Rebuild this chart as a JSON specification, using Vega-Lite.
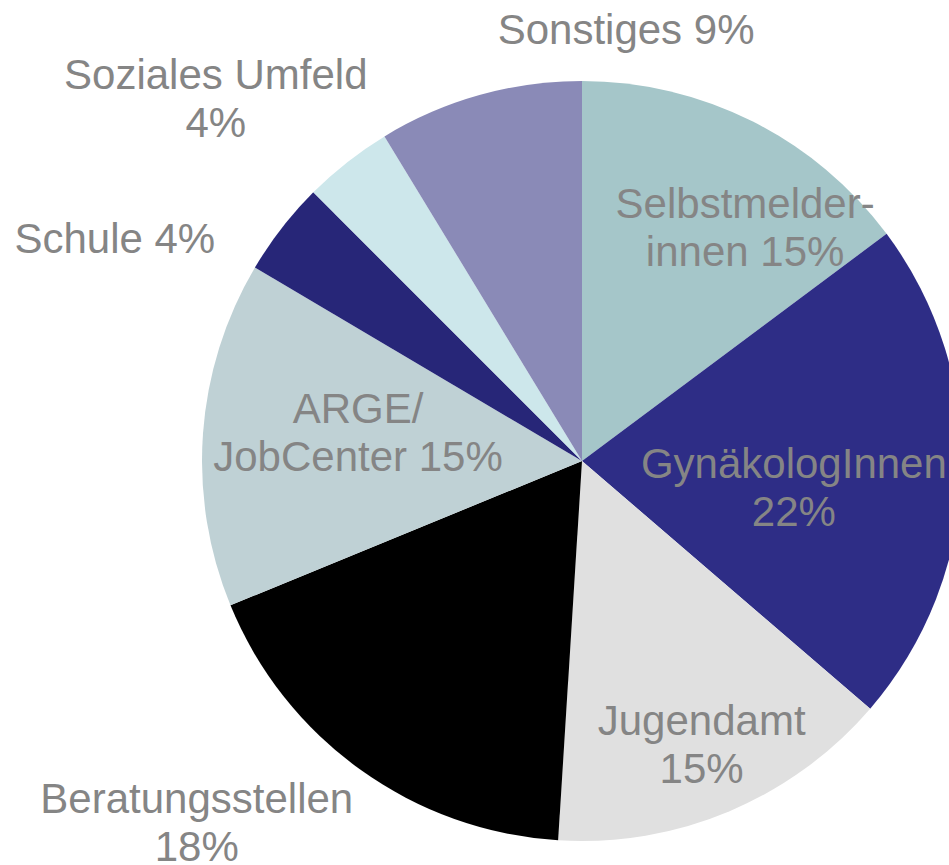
{
  "$schema": "https://vega.github.io/schema/vega-lite/v6.json",
  "autosize": "none",
  "width": 1164,
  "height": 922,
  "padding": {"left": 0, "top": 0, "right": -215, "bottom": -57},
  "background": "white",
  "config": {"view": {"stroke": null}},
  "data": {
    "values": [
      {"Quelle": "Selbstmelder-innen", "Anteil": 14.8, "Label": "Selbstmelder-\ninnen 15%"},
      {"Quelle": "GynäkologInnen", "Anteil": 21.5, "Label": "GynäkologInnen\n22%"},
      {"Quelle": "Jugendamt", "Anteil": 14.7, "Label": "Jugendamt\n15%"},
      {"Quelle": "Beratungsstellen", "Anteil": 17.8, "Label": "Beratungsstellen\n18%"},
      {"Quelle": "ARGE/JobCenter", "Anteil": 14.7, "Label": "ARGE/\nJobCenter 15%"},
      {"Quelle": "Schule", "Anteil": 4.0, "Label": "Schule 4%"},
      {"Quelle": "Soziales Umfeld", "Anteil": 3.8, "Label": "Soziales Umfeld\n4%"},
      {"Quelle": "Sonstiges", "Anteil": 8.7, "Label": "Sonstiges 9%"}
    ]
  },
  "transform": [{"window": [{"op": "row_number", "as": "rn"}]}],
  "encoding": {
    "theta": {"field": "Anteil", "type": "quantitative", "stack": true},
    "order": {"field": "rn", "type": "quantitative"}
  },
  "layer": [
    {
      "mark": {"type": "arc", "radius": 380},
      "encoding": {
        "color": {
          "field": "Quelle",
          "type": "nominal",
          "legend": null,
          "scale": {
            "domain": ["Selbstmelder-innen", "GynäkologInnen", "Jugendamt", "Beratungsstellen", "ARGE/JobCenter", "Schule", "Soziales Umfeld", "Sonstiges"],
            "range": ["#A5C6C9", "#2E2D86", "#E0E0E0", "#000000", "#BFD1D5", "#272678", "#CDE7EB", "#8A8AB7"]
          }
        }
      }
    },
    {
      "mark": {"type": "text", "radius": 283.5, "dx": 36, "dy": -3, "fontSize": 42, "font": "Liberation Sans", "fill": "#858585", "align": "center", "baseline": "middle", "lineHeight": 48, "lineBreak": "\n"},
      "encoding": {"detail": {"field": "Quelle"}, "text": {"condition": {"test": "datum.Quelle === 'Selbstmelder-innen'", "field": "Label", "type": "nominal"}, "value": ""}}
    },
    {
      "mark": {"type": "text", "radius": 214, "dx": -2, "dy": -3, "fontSize": 42, "font": "Liberation Sans", "fill": "#858585", "align": "center", "baseline": "middle", "lineHeight": 48, "lineBreak": "\n"},
      "encoding": {"detail": {"field": "Quelle"}, "text": {"condition": {"test": "datum.Quelle === 'GynäkologInnen'", "field": "Label", "type": "nominal"}, "value": ""}}
    },
    {
      "mark": {"type": "text", "radius": 308, "dx": 0, "dy": -23, "fontSize": 42, "font": "Liberation Sans", "fill": "#858585", "align": "center", "baseline": "middle", "lineHeight": 48, "lineBreak": "\n"},
      "encoding": {"detail": {"field": "Quelle"}, "text": {"condition": {"test": "datum.Quelle === 'Jugendamt'", "field": "Label", "type": "nominal"}, "value": ""}}
    },
    {
      "mark": {"type": "text", "radius": 529, "dx": -77, "dy": -91, "fontSize": 42, "font": "Liberation Sans", "fill": "#858585", "align": "center", "baseline": "middle", "lineHeight": 48, "lineBreak": "\n"},
      "encoding": {"detail": {"field": "Quelle"}, "text": {"condition": {"test": "datum.Quelle === 'Beratungsstellen'", "field": "Label", "type": "nominal"}, "value": ""}}
    },
    {
      "mark": {"type": "text", "radius": 225.6, "dx": 1, "dy": -35, "fontSize": 42, "font": "Liberation Sans", "fill": "#858585", "align": "center", "baseline": "middle", "lineHeight": 48, "lineBreak": "\n"},
      "encoding": {"detail": {"field": "Quelle"}, "text": {"condition": {"test": "datum.Quelle === 'ARGE/JobCenter'", "field": "Label", "type": "nominal"}, "value": ""}}
    },
    {
      "mark": {"type": "text", "radius": 516.6, "dx": -59, "dy": 96, "fontSize": 42, "font": "Liberation Sans", "fill": "#858585", "align": "center", "baseline": "middle", "lineHeight": 48, "lineBreak": "\n"},
      "encoding": {"detail": {"field": "Quelle"}, "text": {"condition": {"test": "datum.Quelle === 'Schule'", "field": "Label", "type": "nominal"}, "value": ""}}
    },
    {
      "mark": {"type": "text", "radius": 513.4, "dx": -49, "dy": 19, "fontSize": 42, "font": "Liberation Sans", "fill": "#858585", "align": "center", "baseline": "middle", "lineHeight": 48, "lineBreak": "\n"},
      "encoding": {"detail": {"field": "Quelle"}, "text": {"condition": {"test": "datum.Quelle === 'Soziales Umfeld'", "field": "Label", "type": "nominal"}, "value": ""}}
    },
    {
      "mark": {"type": "text", "radius": 433.2, "dx": 161, "dy": -13, "fontSize": 42, "font": "Liberation Sans", "fill": "#858585", "align": "center", "baseline": "middle", "lineHeight": 48, "lineBreak": "\n"},
      "encoding": {"detail": {"field": "Quelle"}, "text": {"condition": {"test": "datum.Quelle === 'Sonstiges'", "field": "Label", "type": "nominal"}, "value": ""}}
    }
  ]
}
